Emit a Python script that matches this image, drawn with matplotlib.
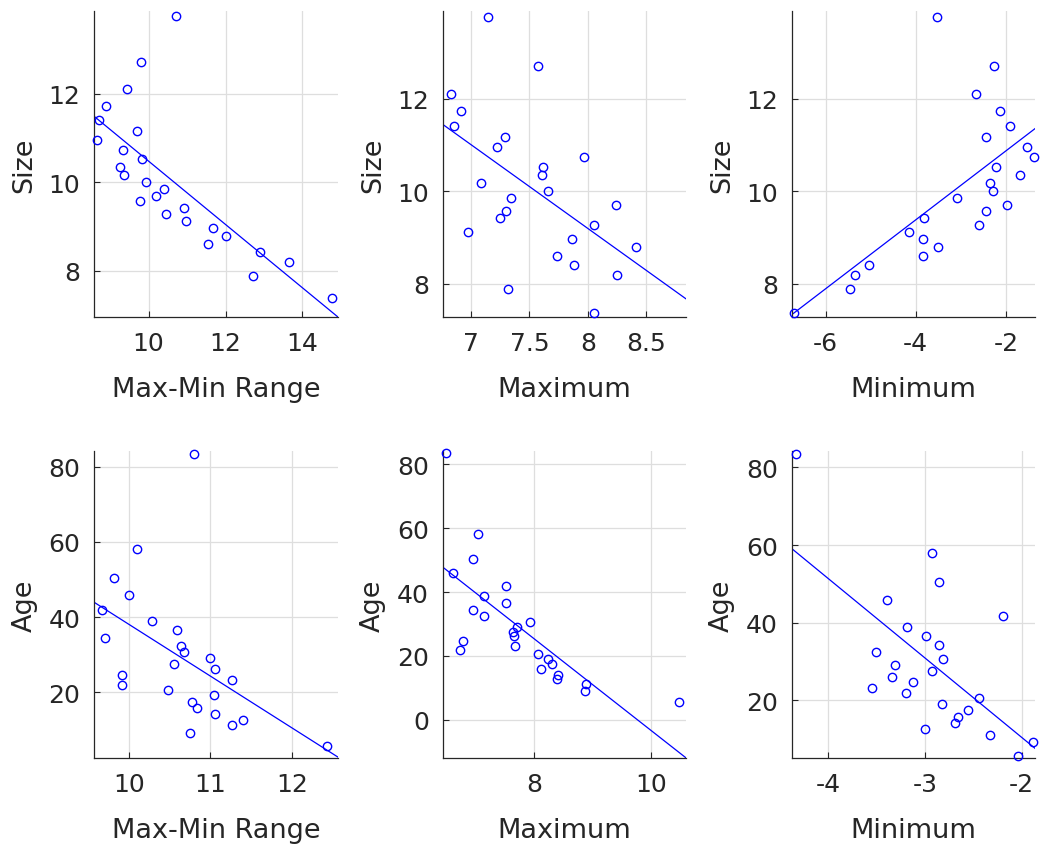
import numpy as np
import matplotlib
matplotlib.use('Agg')
from matplotlib import pyplot as plt

# top row: size against range / maximum / minimum
size = [13.77, 12.71, 12.11, 11.73, 11.41, 10.95, 11.17, 10.74, 10.53, 10.35, 10.17, 10.01, 9.86,
        9.70, 9.57, 9.28, 9.43, 9.12, 8.97, 8.79, 8.61, 8.42, 8.19, 7.89, 7.38]
size_range = [10.71, 9.79, 9.43, 8.89, 8.72, 8.67, 9.69, 9.34, 9.84, 9.26, 9.35, 9.93, 10.39,
              10.19, 9.78, 10.46, 10.92, 10.96, 11.67, 12.01, 11.54, 12.90, 13.65, 12.71, 14.76]
size_max = [7.15, 7.57, 6.83, 6.92, 6.86, 7.22, 7.29, 7.97, 7.62, 7.61, 7.09, 7.66, 7.34,
            8.24, 7.30, 8.05, 7.25, 6.98, 7.86, 8.41, 7.74, 7.88, 8.25, 7.32, 8.05]
size_min = [-3.52, -2.26, -2.67, -2.13, -1.92, -1.54, -2.45, -1.38, -2.23, -1.69, -2.35, -2.28, -3.09,
            -1.98, -2.44, -2.59, -3.81, -4.14, -3.85, -3.51, -3.85, -5.03, -5.35, -5.46, -6.70]

# bottom row: age against range / maximum / minimum
age = [83.4, 58.0, 50.4, 45.8, 41.8, 38.9, 34.4, 36.5, 32.4, 30.7, 29.1, 26.1, 27.6,
       23.2, 24.7, 22.0, 20.7, 19.2, 17.5, 15.8, 14.2, 12.7, 11.2, 9.2, 5.6]
age_range = [10.80, 10.10, 9.82, 10.00, 9.67, 10.28, 9.71, 10.59, 10.64, 10.68, 11.00, 11.06, 10.56,
             11.26, 9.92, 9.92, 10.48, 11.04, 10.77, 10.84, 11.06, 11.40, 11.26, 10.75, 12.43]
age_max = [6.48, 7.04, 6.95, 6.60, 7.51, 7.14, 6.95, 7.52, 7.13, 7.93, 7.70, 7.65, 7.63,
           7.67, 6.77, 6.73, 8.06, 8.24, 8.30, 8.12, 8.40, 8.39, 8.88, 8.87, 10.48]
age_min = [-4.34, -2.93, -2.86, -3.39, -2.19, -3.19, -2.86, -2.99, -3.51, -2.82, -3.31, -3.34, -2.93,
           -3.55, -3.13, -3.20, -2.44, -2.83, -2.56, -2.66, -2.69, -3.00, -2.33, -1.88, -2.04]

TXT = '#262626'
plt.rcParams['font.family'] = ['DejaVu Sans']
plt.rcParams['font.size'] = 18
plt.rcParams['axes.unicode_minus'] = False

panels = [
    (size_range, size, 'Max-Min Range', 'Size', (8.59, 14.92), (6.95, 13.88), [10, 12, 14], [8, 10, 12]),
    (size_max, size, 'Maximum', 'Size', (6.76, 8.84), (7.28, 13.90), [7, 7.5, 8, 8.5], [8, 10, 12]),
    (size_min, size, 'Minimum', 'Size', (-6.75, -1.35), (7.28, 13.90), [-6, -4, -2], [8, 10, 12]),
    (age_range, age, 'Max-Min Range', 'Age', (9.58, 12.56), (2.5, 84.1), [10, 11, 12], [20, 40, 60, 80]),
    (age_max, age, 'Maximum', 'Age', (6.43, 10.60), (-11.9, 84.0), [8, 10], [0, 20, 40, 60, 80]),
    (age_min, age, 'Minimum', 'Age', (-4.38, -1.86), (5.2, 84.1), [-4, -3, -2], [20, 40, 60, 80]),
]

fig = plt.figure(figsize=(10.4, 8.53), dpi=100)
lefts = [0.0907, 0.4257, 0.7613]
bottoms = [0.6268, 0.1102]

for i, (x, y, xlab, ylab, xl, yl, xt, yt) in enumerate(panels):
    ax = fig.add_axes([lefts[i % 3], bottoms[i // 3], 0.2342, 0.3595])
    x = np.array(x)
    y = np.array(y)
    ax.plot(x, y, 'o', mfc='none', mec='blue', ms=6, mew=1.0, clip_on=False, zorder=3)
    # least-squares line across the whole axis
    k, b = np.polyfit(x, y, 1)
    xs = np.array(xl)
    ax.plot(xs, k * xs + b, '-', color='blue', lw=0.9, zorder=2)
    ax.set_xlim(xl)
    ax.set_ylim(yl)
    ax.set_xticks(xt)
    ax.set_yticks(yt)
    ax.set_xticklabels([f'{v:g}' for v in xt])
    ax.set_yticklabels([f'{v:g}' for v in yt])
    ax.grid(True, color='#dedede', lw=0.9)
    ax.set_axisbelow(True)
    for s in ['top', 'right']:
        ax.spines[s].set_visible(False)
    for s in ['left', 'bottom']:
        ax.spines[s].set_color(TXT)
        ax.spines[s].set_linewidth(0.9)
    ax.tick_params(direction='in', length=4, width=0.8, colors=TXT, labelsize=18, pad=10)
    ax.set_xlabel(xlab, color=TXT, fontsize=19.5, labelpad=15)
    ax.set_ylabel(ylab, color=TXT, fontsize=19.5, labelpad=8)

plt.savefig('out.png', dpi=100)
